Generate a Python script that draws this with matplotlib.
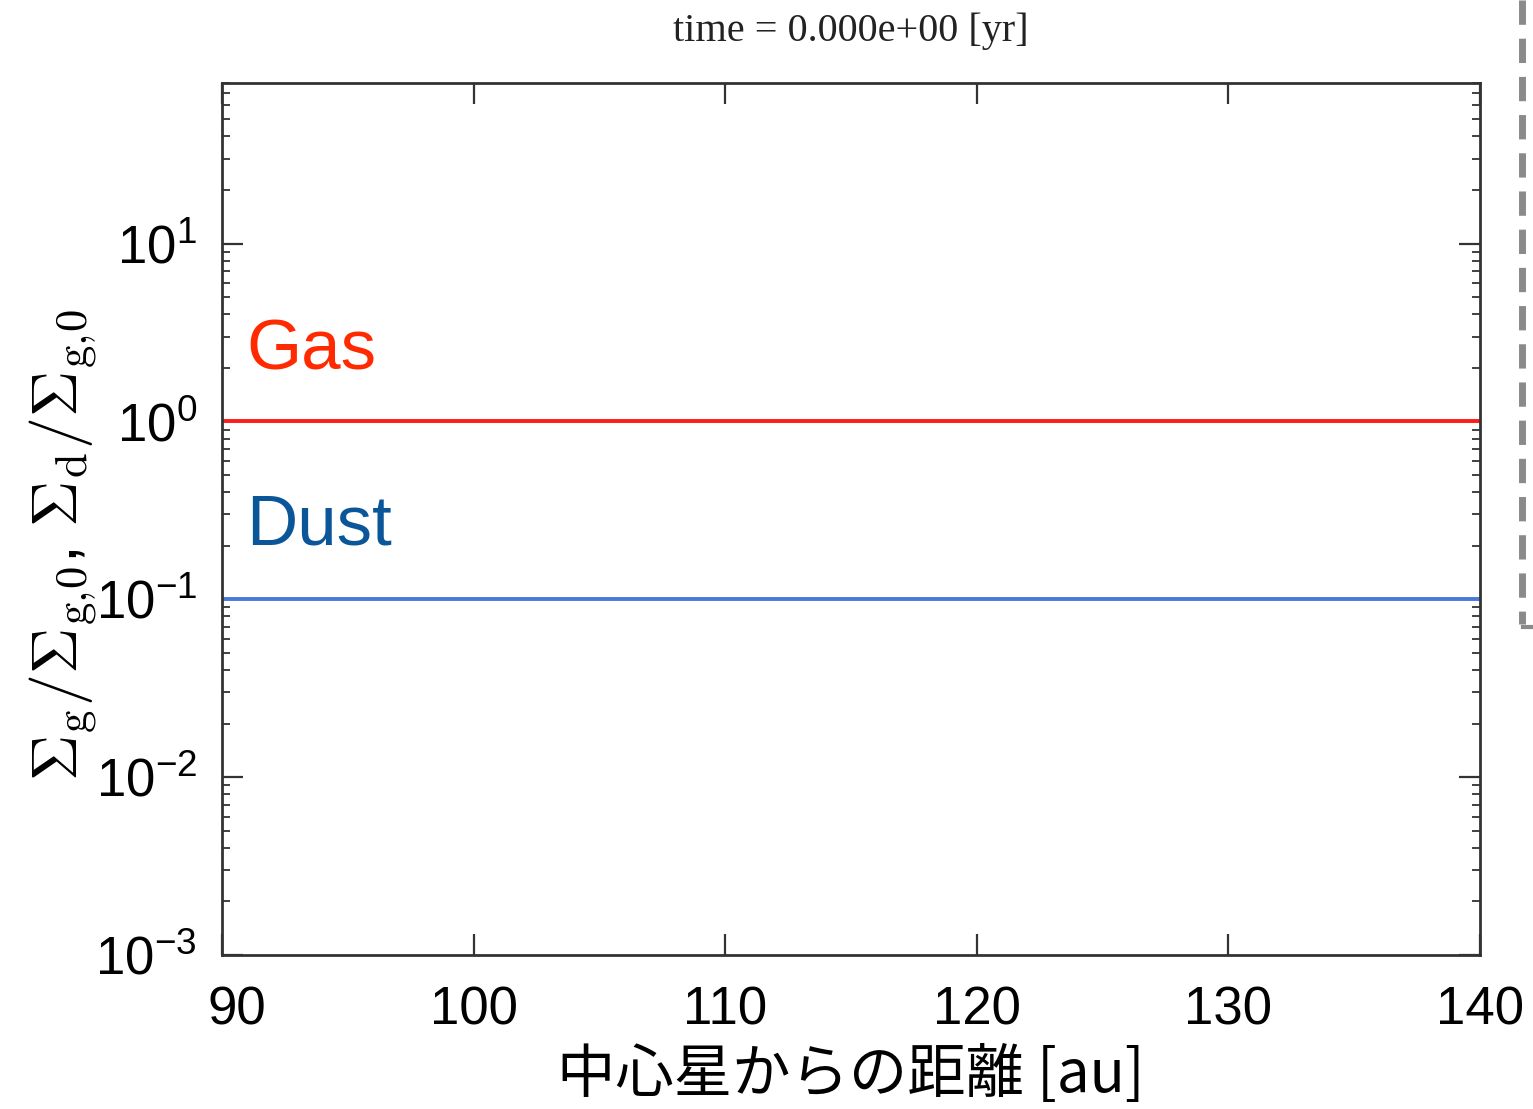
import matplotlib
matplotlib.use('Agg')
import matplotlib.pyplot as plt
import matplotlib.transforms as mtransforms
from matplotlib.lines import Line2D
from matplotlib.ticker import LogLocator, NullLocator, NullFormatter

# data
radius = [90.0, 140.0]          # au
gas_ratio = [1.0, 1.0]          # Sigma_g / Sigma_g0
dust_ratio = [0.1, 0.1]         # Sigma_d / Sigma_g0
x_ticks = [90, 100, 110, 120, 130, 140]
time_yr = 0.0

plt.rcParams['font.family'] = ['Liberation Sans', 'Noto Sans CJK JP', 'DejaVu Sans']
plt.rcParams['mathtext.fontset'] = 'cm'

fig = plt.figure(figsize=(15.33, 11.09), dpi=100)
ax = fig.add_axes([0.1448, 0.1389, 0.8206, 0.7863])

# the two profiles
ax.plot(radius, gas_ratio, color='#ff1a1a', linewidth=2.8, solid_capstyle='butt')
ax.plot(radius, dust_ratio, color='#4a78dc', linewidth=2.8, solid_capstyle='butt')

ax.set_yscale('log')
ax.set_xlim(90, 140)
ax.set_ylim(1e-3, 80)
ax.set_xticks(x_ticks)
ax.xaxis.set_minor_locator(NullLocator())
ax.yaxis.set_major_locator(LogLocator(base=10, numticks=10))
ax.yaxis.set_minor_locator(LogLocator(base=10, subs=range(2, 10), numticks=20))
ax.yaxis.set_minor_formatter(NullFormatter())

# ticks inside on every side
ax.tick_params(which='both', direction='in', top=True, right=True, colors='#333333')
ax.tick_params(which='major', length=15, width=1.6, labelsize=38, labelcolor='black')
ax.tick_params(which='minor', length=6, width=1.3)
ax.tick_params(axis='x', pad=22)
ax.tick_params(axis='y', pad=18)
for sp in ax.spines.values():
    sp.set_color('#333333')
    sp.set_linewidth(2)
# first x label sits a bit to the right in the original
first = ax.get_xticklabels()[0]
first.set_transform(first.get_transform() +
                    mtransforms.ScaledTranslation(0.15, 0, fig.dpi_scale_trans))

# labels
ax.text(90.95, 1.95, 'Gas', color='#ff2a00', fontsize=51, va='baseline', ha='left')
ax.text(90.95, 0.203, 'Dust', color='#0b5699', fontsize=51, va='baseline', ha='left')

ax.set_title('time = %.3e [yr]' % time_yr, family='Liberation Serif', fontsize=29,
             color='#222222', pad=30)
ax.set_xlabel('中心星からの距離 [au]', family=['Noto Sans CJK JP', 'DejaVu Sans'],
              fontsize=42, labelpad=7)
ax.set_ylabel(r'$\Sigma_{\rm g}/\Sigma_{\rm g,\!0}$, $\Sigma_{\rm d}/\Sigma_{\rm g,\!0}$',
              fontsize=46, labelpad=2)
ax.yaxis.set_label_coords(-0.097, 0.47)

# dashed slide divider on the right edge
fig.add_artist(Line2D([0.9928, 0.9928], [1.0, 0.437], color='#8a8a8a', linewidth=5,
                      linestyle=(0, (3.5, 2.0)), transform=fig.transFigure))
fig.add_artist(Line2D([0.9935, 1.0], [0.435, 0.435], color='#8a8a8a', linewidth=3,
                      transform=fig.transFigure))

fig.savefig('out.png', dpi=100)
